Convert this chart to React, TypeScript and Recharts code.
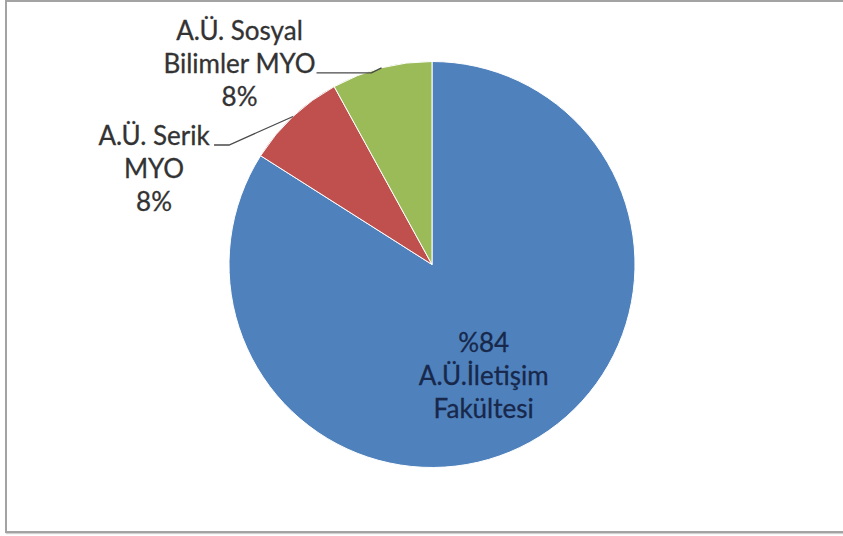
import React from "react";
import { PieChart, Pie, Cell } from "recharts";

// ---- data ----
const categories = ["A.Ü.İletişim Fakültesi", "A.Ü. Serik MYO", "A.Ü. Sosyal Bilimler MYO"];
const shares = [84, 8, 8];
const labelLines = [
  ["%84", "A.Ü.İletişim", "Fakültesi"],
  ["A.Ü. Serik", "MYO", "8%"],
  ["A.Ü. Sosyal", "Bilimler MYO", "8%"],
];
const colors = ["#4F81BD", "#C0504D", "#9BBB59"];

const data = categories.map((name, i) => ({ name, value: shares[i] }));

// ---- label layout (style only) ----
const FONT = "Lato, 'Open Sans', sans-serif";
const FS = 26;
const LH = 33;
type Layout =
  | { kind: "inside"; rf: number; dx: number; dy: number; color: string }
  | { kind: "outside"; elbow: [number, number]; end: [number, number]; textDx: number; leaderLine: number; color: string };

const layouts: Layout[] = [
  { kind: "inside", rf: 0.6, dx: -7, dy: -19, color: "#17284a" },
  { kind: "outside", elbow: [-64, 28.5], end: [-79, 28.5], textDx: -139, leaderLine: 0, color: "#333333" },
  { kind: "outside", elbow: [-10, 5], end: [-65, 5], textDx: -142, leaderLine: 1, color: "#333333" },
];

const RAD = Math.PI / 180;

const renderLabel = (props: any) => {
  const { cx, cy, midAngle, outerRadius, index } = props;
  const lay = layouts[index];
  const lines = labelLines[index];
  const cos = Math.cos(-midAngle * RAD);
  const sin = Math.sin(-midAngle * RAD);
  if (lay.kind === "inside") {
    const ax = cx + outerRadius * lay.rf * cos + lay.dx;
    const ay = cy + outerRadius * lay.rf * sin + lay.dy;
    return (
      <g key={`lbl-${index}`}>
        {lines.map((t, k) => (
          <text key={k} x={ax} y={ay + k * LH} textAnchor="middle" fontFamily={FONT} fontSize={FS} fill={lay.color} stroke={lay.color} strokeWidth={0.3}>
            {t}
          </text>
        ))}
      </g>
    );
  }
  const px = cx + outerRadius * cos;
  const py = cy + outerRadius * sin;
  const ex = px + lay.elbow[0];
  const ey = py + lay.elbow[1];
  const fx = px + lay.end[0];
  const fy = py + lay.end[1];
  const tx = px + lay.textDx;
  const firstBaseline = fy - lay.leaderLine * LH;
  return (
    <g key={`lbl-${index}`}>
      <polyline points={`${px},${py} ${ex},${ey} ${fx},${fy}`} fill="none" stroke="#4a4a4a" strokeWidth={1.3} />
      {lines.map((t, k) => (
        <text key={k} x={tx} y={firstBaseline + k * LH} textAnchor="middle" fontFamily={FONT} fontSize={FS} fill={lay.color} stroke={lay.color} strokeWidth={0.3}>
          {t}
        </text>
      ))}
    </g>
  );
};

export default function App() {
  return (
    <div style={{ position: "absolute", left: 0, top: 0, width: 843, height: 536, background: "#fff", overflow: "hidden" }}>
      <div
        style={{
          position: "absolute",
          left: 5,
          top: 0,
          width: 860,
          height: 529,
          border: "2px solid #a3a3a3",
          boxShadow: "1px 1px 1px #d0d0d0",
        }}
      />
      <div style={{ position: "absolute", left: 0, top: 0 }}>
        <PieChart width={843} height={536} margin={{ top: 0, right: 0, bottom: 0, left: 0 }}>
          <Pie
            data={data}
            dataKey="value"
            nameKey="name"
            cx={432}
            cy={264.5}
            outerRadius={203}
            startAngle={90}
            endAngle={-270}
            stroke="#ffffff"
            strokeWidth={1}
            label={renderLabel}
            labelLine={false}
            isAnimationActive={false}
          >
            {data.map((d, i) => (
              <Cell key={d.name} fill={colors[i]} />
            ))}
          </Pie>
        </PieChart>
      </div>
    </div>
  );
}
